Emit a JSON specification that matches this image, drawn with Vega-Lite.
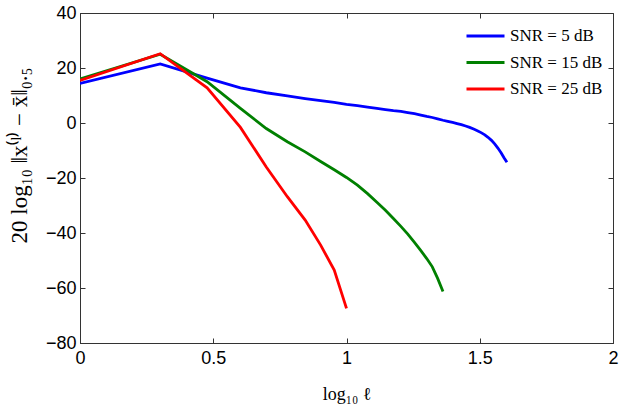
{
  "$schema": "https://vega.github.io/schema/vega-lite/v6.json",
  "autosize": "none",
  "width": 533,
  "height": 330,
  "padding": {"left": 80, "top": 13, "right": 11, "bottom": 69},
  "background": "white",
  "config": {
    "view": {"stroke": "#333333", "strokeWidth": 1},
    "axis": {
      "grid": false,
      "domainColor": "#333333",
      "tickColor": "#333333",
      "tickSize": 5,
      "labelFlush": false,
      "labelFont": "Liberation Sans",
      "labelFontSize": 18,
      "labelColor": "black",
      "titleFont": "Liberation Serif",
      "titleFontWeight": "normal",
      "titleFontSize": 18,
      "titleColor": "black"
    }
  },
  "data": {
    "values": [
      {"x": 0.0, "y": 14.4, "s": "SNR = 5 dB"},
      {"x": 0.301, "y": 21.5, "s": "SNR = 5 dB"},
      {"x": 0.477, "y": 16.3, "s": "SNR = 5 dB"},
      {"x": 0.602, "y": 12.8, "s": "SNR = 5 dB"},
      {"x": 0.699, "y": 11.0, "s": "SNR = 5 dB"},
      {"x": 0.778, "y": 9.9, "s": "SNR = 5 dB"},
      {"x": 0.845, "y": 8.9, "s": "SNR = 5 dB"},
      {"x": 0.903, "y": 8.1, "s": "SNR = 5 dB"},
      {"x": 0.954, "y": 7.5, "s": "SNR = 5 dB"},
      {"x": 1.0, "y": 6.8, "s": "SNR = 5 dB"},
      {"x": 1.041, "y": 6.3, "s": "SNR = 5 dB"},
      {"x": 1.079, "y": 5.8, "s": "SNR = 5 dB"},
      {"x": 1.114, "y": 5.3, "s": "SNR = 5 dB"},
      {"x": 1.146, "y": 4.9, "s": "SNR = 5 dB"},
      {"x": 1.176, "y": 4.5, "s": "SNR = 5 dB"},
      {"x": 1.204, "y": 4.2, "s": "SNR = 5 dB"},
      {"x": 1.230, "y": 3.8, "s": "SNR = 5 dB"},
      {"x": 1.255, "y": 3.4, "s": "SNR = 5 dB"},
      {"x": 1.279, "y": 2.9, "s": "SNR = 5 dB"},
      {"x": 1.301, "y": 2.4, "s": "SNR = 5 dB"},
      {"x": 1.322, "y": 2.0, "s": "SNR = 5 dB"},
      {"x": 1.342, "y": 1.5, "s": "SNR = 5 dB"},
      {"x": 1.362, "y": 1.0, "s": "SNR = 5 dB"},
      {"x": 1.380, "y": 0.6, "s": "SNR = 5 dB"},
      {"x": 1.398, "y": 0.2, "s": "SNR = 5 dB"},
      {"x": 1.415, "y": -0.2, "s": "SNR = 5 dB"},
      {"x": 1.431, "y": -0.6, "s": "SNR = 5 dB"},
      {"x": 1.447, "y": -1.1, "s": "SNR = 5 dB"},
      {"x": 1.462, "y": -1.6, "s": "SNR = 5 dB"},
      {"x": 1.477, "y": -2.2, "s": "SNR = 5 dB"},
      {"x": 1.491, "y": -2.8, "s": "SNR = 5 dB"},
      {"x": 1.505, "y": -3.5, "s": "SNR = 5 dB"},
      {"x": 1.519, "y": -4.3, "s": "SNR = 5 dB"},
      {"x": 1.531, "y": -5.2, "s": "SNR = 5 dB"},
      {"x": 1.544, "y": -6.3, "s": "SNR = 5 dB"},
      {"x": 1.556, "y": -7.6, "s": "SNR = 5 dB"},
      {"x": 1.568, "y": -9.1, "s": "SNR = 5 dB"},
      {"x": 1.580, "y": -10.8, "s": "SNR = 5 dB"},
      {"x": 1.591, "y": -12.6, "s": "SNR = 5 dB"},
      {"x": 1.602, "y": -14.3, "s": "SNR = 5 dB"},
      {"x": 0.0, "y": 16.0, "s": "SNR = 15 dB"},
      {"x": 0.301, "y": 25.0, "s": "SNR = 15 dB"},
      {"x": 0.477, "y": 15.0, "s": "SNR = 15 dB"},
      {"x": 0.602, "y": 5.3, "s": "SNR = 15 dB"},
      {"x": 0.699, "y": -2.0, "s": "SNR = 15 dB"},
      {"x": 0.778, "y": -6.8, "s": "SNR = 15 dB"},
      {"x": 0.845, "y": -10.5, "s": "SNR = 15 dB"},
      {"x": 0.903, "y": -14.0, "s": "SNR = 15 dB"},
      {"x": 0.954, "y": -17.0, "s": "SNR = 15 dB"},
      {"x": 1.0, "y": -19.8, "s": "SNR = 15 dB"},
      {"x": 1.041, "y": -22.6, "s": "SNR = 15 dB"},
      {"x": 1.079, "y": -25.7, "s": "SNR = 15 dB"},
      {"x": 1.114, "y": -28.8, "s": "SNR = 15 dB"},
      {"x": 1.146, "y": -31.7, "s": "SNR = 15 dB"},
      {"x": 1.176, "y": -34.7, "s": "SNR = 15 dB"},
      {"x": 1.204, "y": -37.6, "s": "SNR = 15 dB"},
      {"x": 1.230, "y": -40.4, "s": "SNR = 15 dB"},
      {"x": 1.255, "y": -43.4, "s": "SNR = 15 dB"},
      {"x": 1.279, "y": -46.4, "s": "SNR = 15 dB"},
      {"x": 1.301, "y": -49.3, "s": "SNR = 15 dB"},
      {"x": 1.322, "y": -52.3, "s": "SNR = 15 dB"},
      {"x": 1.342, "y": -56.5, "s": "SNR = 15 dB"},
      {"x": 1.362, "y": -61.3, "s": "SNR = 15 dB"},
      {"x": 0.0, "y": 15.5, "s": "SNR = 25 dB"},
      {"x": 0.301, "y": 25.2, "s": "SNR = 25 dB"},
      {"x": 0.477, "y": 12.8, "s": "SNR = 25 dB"},
      {"x": 0.602, "y": -1.6, "s": "SNR = 25 dB"},
      {"x": 0.699, "y": -16.0, "s": "SNR = 25 dB"},
      {"x": 0.778, "y": -26.8, "s": "SNR = 25 dB"},
      {"x": 0.845, "y": -35.3, "s": "SNR = 25 dB"},
      {"x": 0.903, "y": -44.4, "s": "SNR = 25 dB"},
      {"x": 0.954, "y": -53.5, "s": "SNR = 25 dB"},
      {"x": 1.0, "y": -67.4, "s": "SNR = 25 dB"}
    ]
  },
  "layer": [
    {
      "mark": {"type": "line", "strokeWidth": 2.8, "clip": true},
      "encoding": {
        "x": {
          "field": "x", "type": "quantitative",
          "scale": {"domain": [0, 2], "nice": false, "zero": false},
          "axis": {"values": [0, 0.5, 1, 1.5, 2], "format": "~g", "ticks": false, "title": "log₁₀ ℓ", "labelPadding": 6, "titlePadding": 18}
        },
        "y": {
          "field": "y", "type": "quantitative",
          "scale": {"domain": [-80, 40], "nice": false, "zero": false},
          "axis": {"values": [-80, -60, -40, -20, 0, 20, 40], "ticks": false, "title": "20 log₁₀ ‖x⁽ˡ⁾ − x̄‖₀.₅", "titleFontSize": 23, "titleY": 142, "labelPadding": 4, "titlePadding": 14}
        },
        "color": {
          "field": "s", "type": "nominal",
          "scale": {"domain": ["SNR = 5 dB", "SNR = 15 dB", "SNR = 25 dB"], "range": ["#0000ff", "#008000", "#ff0000"]},
          "legend": {
            "title": null,
            "orient": "none",
            "legendX": 404,
            "legendY": 12,
            "padding": 0,
            "symbolType": "M-3,0H1",
            "symbolSize": 361,
            "symbolStrokeWidth": 2.8,
            "labelOffset": 4,
            "labelFont": "Liberation Serif",
            "labelFontSize": 17,
            "labelColor": "black",
            "rowPadding": 7.5
          }
        },
        "order": {"field": "x", "type": "quantitative"}
      }
    },
    {
      "mark": {"type": "line", "opacity": 0},
      "encoding": {
        "x": {"field": "x", "type": "quantitative", "axis": {"orient": "top", "offset": -330, "values": [0, 0.5, 1, 1.5, 2], "labels": false, "title": null, "domain": false}},
        "y": {"field": "y", "type": "quantitative", "axis": {"orient": "right", "offset": -533, "values": [-80, -60, -40, -20, 0, 20, 40], "labels": false, "title": null, "domain": false}}
      }
    },
    {
      "mark": {"type": "line", "opacity": 0},
      "encoding": {
        "x": {"field": "x", "type": "quantitative", "axis": {"orient": "bottom", "offset": -330, "values": [0, 0.5, 1, 1.5, 2], "labels": false, "title": null, "domain": false}},
        "y": {"field": "y", "type": "quantitative", "axis": {"orient": "left", "offset": -533, "values": [-80, -60, -40, -20, 0, 20, 40], "labels": false, "title": null, "domain": false}}
      }
    }
  ],
  "resolve": {"axis": {"x": "independent", "y": "independent"}}
}
